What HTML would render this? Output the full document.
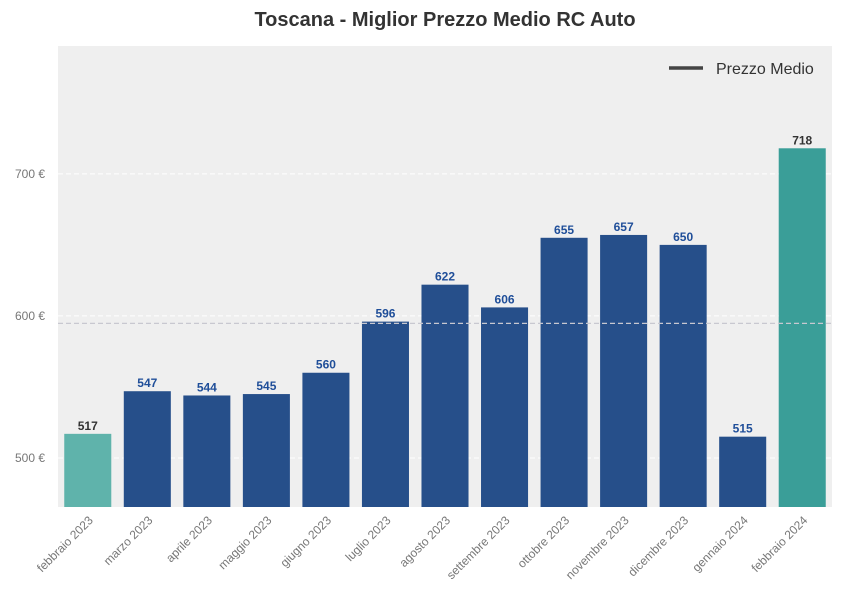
<!DOCTYPE html>
<html><head><meta charset="utf-8"><style>
body{margin:0;background:#fff;font-family:"Liberation Sans",Arial,sans-serif}
</style></head><body>
<svg id="chart" width="848" height="610" xmlns="http://www.w3.org/2000/svg">
<text x="445" y="26" text-anchor="middle" font-size="20" font-weight="bold" fill="#333">Toscana - Miglior Prezzo Medio RC Auto</text>
<rect x="58" y="46" width="774" height="461" fill="#efefef"/>
<g id="grid"></g><g id="bars"></g><g id="labels"></g><g id="xt"></g>
<g>
<line x1="669" y1="68" x2="703" y2="68" stroke="#444" stroke-width="3.5"/>
<text x="716" y="74" font-size="16" fill="#333">Prezzo Medio</text>
</g>
</svg>
<script>
const categories=["febbraio 2023","marzo 2023","aprile 2023","maggio 2023","giugno 2023","luglio 2023","agosto 2023","settembre 2023","ottobre 2023","novembre 2023","dicembre 2023","gennaio 2024","febbraio 2024"];
const values=[517,547,544,545,560,596,622,606,655,657,650,515,718];
const yTicks=[500,600,700];
const ns="http://www.w3.org/2000/svg";
const yMin=465.5,yMax=790,yTop=46,yBot=507,xLeft=58,xRight=832;
function y(v){return yBot-(v-yMin)/(yMax-yMin)*(yBot-yTop);}
const step=(xRight-xLeft)/categories.length;
function xc(i){return xLeft+step*(i+0.5);}
function mk(t,a,p){const e=document.createElementNS(ns,t);for(const k in a)e.setAttribute(k,a[k]);document.getElementById(p).appendChild(e);return e;}
yTicks.forEach(v=>{
 const l=mk("line",{x1:xLeft,x2:xRight,y1:y(v),y2:y(v),stroke:"#fff","stroke-dasharray":"5,3","stroke-width":1},"grid");
 
 
 const t=mk("text",{x:45,y:y(v)+4,"text-anchor":"end","font-size":12,fill:"#777"},"grid");
 t.textContent=v+" €";
 
 
});
const avg=values.reduce((a,b)=>a+b,0)/values.length;
const bw=step*0.79;
values.forEach((v,i)=>{
 const last=i===values.length-1,first=i===0;
 const fill=first?"#5fb3ab":last?"#3a9e98":"#264f8a";
 const r=mk("rect",{x:xc(i)-bw/2,y:y(v),width:bw,height:yBot-y(v),fill:fill},"bars");
 
 
 const t=mk("text",{x:xc(i),y:y(v)-4,"text-anchor":"middle","font-size":12,"font-weight":"bold",fill:(first||last)?"#333":"#1f4e99"},"labels");
 t.textContent=v;
 
 
 const xt=mk("text",{x:xc(i)+6,y:yBot+14,"text-anchor":"end","font-size":12,fill:"#777",transform:`rotate(-45 ${xc(i)+6} ${yBot+14})`},"xt");
 xt.textContent=categories[i];
 
 
});
const al=mk("line",{x1:xLeft,x2:xRight,y1:y(avg),y2:y(avg),stroke:"#c8c8d0","stroke-dasharray":"5,3","stroke-width":1.2},"labels");


</script>
</body></html>
